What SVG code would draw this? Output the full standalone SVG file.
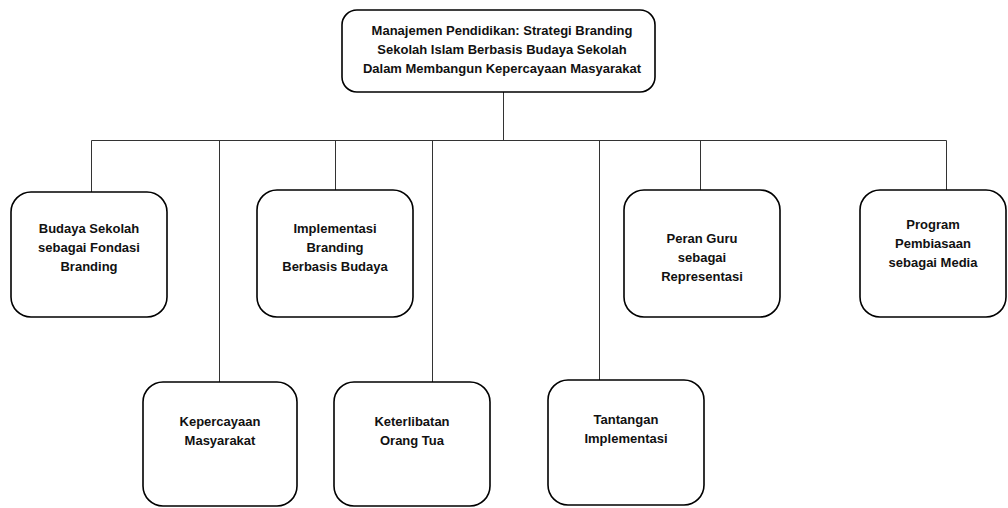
<svg xmlns="http://www.w3.org/2000/svg" width="1008" height="508" viewBox="0 0 1008 508">
<style>
.box{fill:#fff;stroke:#000;stroke-width:1.6}
.conn{stroke:#333;stroke-width:1;fill:none}
.t{font-family:"Liberation Sans",Arial,sans-serif;font-weight:bold;font-size:13px;fill:#111;text-anchor:middle}
</style>
<rect width="1008" height="508" fill="#fff"/>
<g id="connectors">
<path class="conn" d="M503.5 92V140.5M91.5 140.5H946.5M91.5 140.5V192M219.5 140.5V382M335.5 140.5V190M432.5 140.5V382M599.5 140.5V380M700.5 140.5V190M946.5 140.5V190"/>
</g>
<g id="root">
<rect class="box" x="342" y="10" width="313" height="82" rx="15"/>
<text class="t" x="502" y="35">Manajemen Pendidikan: Strategi Branding</text>
<text class="t" x="502" y="54">Sekolah Islam Berbasis Budaya Sekolah</text>
<text class="t" x="502" y="73">Dalam Membangun Kepercayaan Masyarakat</text>
</g>
<g id="budaya">
<rect class="box" x="11" y="192" width="156" height="125" rx="20"/>
<text class="t" x="89" y="233">Budaya Sekolah</text>
<text class="t" x="89" y="252">sebagai Fondasi</text>
<text class="t" x="89" y="271">Branding</text>
</g>
<g id="implementasi">
<rect class="box" x="257" y="190" width="156" height="127" rx="20"/>
<text class="t" x="335" y="233">Implementasi</text>
<text class="t" x="335" y="252">Branding</text>
<text class="t" x="335" y="271">Berbasis Budaya</text>
</g>
<g id="peran">
<rect class="box" x="624" y="190" width="156" height="127" rx="20"/>
<text class="t" x="702" y="243">Peran Guru</text>
<text class="t" x="702" y="262">sebagai</text>
<text class="t" x="702" y="281">Representasi</text>
</g>
<g id="program">
<rect class="box" x="860" y="190" width="146" height="127" rx="20"/>
<text class="t" x="933" y="229">Program</text>
<text class="t" x="933" y="248">Pembiasaan</text>
<text class="t" x="933" y="267">sebagai Media</text>
</g>
<g id="kepercayaan">
<rect class="box" x="143" y="382" width="154" height="124" rx="20"/>
<text class="t" x="220" y="426">Kepercayaan</text>
<text class="t" x="220" y="445">Masyarakat</text>
</g>
<g id="keterlibatan">
<rect class="box" x="334" y="382" width="156" height="124" rx="20"/>
<text class="t" x="412" y="426">Keterlibatan</text>
<text class="t" x="412" y="445">Orang Tua</text>
</g>
<g id="tantangan">
<rect class="box" x="548" y="380" width="156" height="125" rx="20"/>
<text class="t" x="626" y="424">Tantangan</text>
<text class="t" x="626" y="443">Implementasi</text>
</g>
</svg>
